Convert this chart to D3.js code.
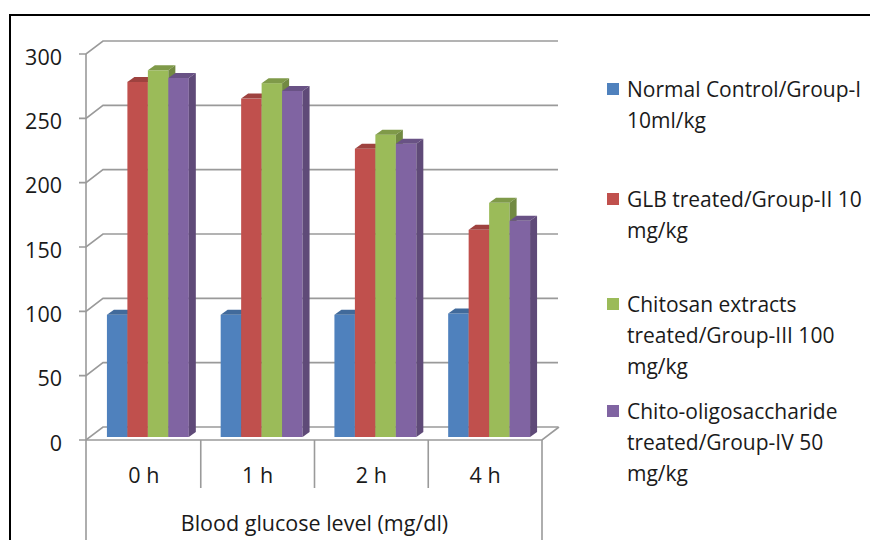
<!DOCTYPE html>
<html>
<head>
<meta charset="utf-8">
<script src="https://cdn.jsdelivr.net/npm/d3@7"></script>
<style>
  body { margin: 0; background: #fff; }
  text { font-family: "Open Sans", sans-serif; fill: #1a1a1a; }
</style>
</head>
<body>
<svg width="870" height="540"></svg>
<script>
var categories = ["0 h", "1 h", "2 h", "4 h"];
var seriesNames = ["Normal Control/Group-I 10ml/kg", "GLB treated/Group-II 10 mg/kg",
  "Chitosan extracts treated/Group-III 100 mg/kg", "Chito-oligosaccharide treated/Group-IV 50 mg/kg"];
var legendLines = [["Normal Control/Group-I", "10ml/kg"], ["GLB treated/Group-II 10", "mg/kg"],
  ["Chitosan extracts", "treated/Group-III 100", "mg/kg"],
  ["Chito-oligosaccharide", "treated/Group-IV 50", "mg/kg"]];
var normalControl = [95, 95, 95, 96];
var glbTreated = [276, 263, 224, 161];
var chitosanTreated = [285, 275, 235, 182];
var chitoOligo = [279, 269, 228, 168];
var yTicks = [0, 50, 100, 150, 200, 250, 300];
var colors = ["#4F81BD", "#C0504D", "#9BBB59", "#8064A2"];

var values = [normalControl, glbTreated, chitosanTreated, chitoOligo];
var svg = d3.select("svg");

// frame
svg.append("path").attr("d", "M10,540V15H870").attr("fill", "none")
  .attr("stroke", "#000").attr("stroke-width", 2);

var x0 = 87, x1 = 542;
var wallDx = 17, wallDy = -13;   // back wall offset
var barDx = 4, barDy = -3;       // bars sit a bit behind the front plane
var depthDx = 7, depthDy = -5;   // bar depth

var y = d3.scaleLinear().domain([0, 300]).range([440, 54]);
var x = d3.scaleBand().domain(categories).range([x0, x1]);
var xs = d3.scaleBand().domain(d3.range(4))
  .range([x.bandwidth() * 0.14, x.bandwidth() * 0.86]);

var grid = "#9a9a9a";
var g = svg.append("g").attr("fill", "none").attr("stroke", grid).attr("stroke-width", 1.6);

// gridlines on back wall with diagonals to the front axis
yTicks.forEach(function(t) {
  g.append("path").attr("d", "M" + 79 + "," + y(t) + "H" + 86 +
    "L" + (86 + wallDx) + "," + (y(t) + wallDy) + "H" + (x1 + wallDx - 1));
});
// floor
g.append("path").attr("d", "M" + 86 + "," + y(0) + "H" + x1 + "L" + (x1 + wallDx) + "," + (y(0) + wallDy));
// front y axis
g.append("path").attr("d", "M86," + y(300) + "V540");
// category separators
categories.forEach(function(c, i) {
  if (i > 0) g.append("path").attr("d", "M" + x(c) + "," + y(0) + "V488");
});
g.append("path").attr("d", "M" + x1 + "," + y(0) + "V540");

// y labels
svg.append("g").selectAll("text").data(yTicks).join("text")
  .attr("x", 62).attr("y", function(d) { return y(d) + 3; })
  .attr("dy", "0.35em").attr("text-anchor", "end")
  .style("font-size", "21.5px").text(function(d) { return d; });

// category labels
svg.append("g").selectAll("text").data(categories).join("text")
  .attr("x", function(d) { return x(d) + x.bandwidth() / 2; })
  .attr("y", 475).attr("dy", "0.35em").attr("text-anchor", "middle")
  .style("font-size", "21.5px").text(function(d) { return d; });

svg.append("text").attr("x", (x0 + x1) / 2).attr("y", 523).attr("dy", "0.35em")
  .attr("text-anchor", "middle").style("font-size", "21.5px")
  .text("Blood glucose level (mg/dl)");

// bars
var bars = svg.append("g");
categories.forEach(function(c, ci) {
  values.forEach(function(vals, si) {
    var bx = x(c) + xs(si) + barDx;
    var bw = xs.bandwidth();
    var top = y(vals[ci]) + barDy;
    var bottom = y(0) + barDy;
    var col = d3.color(colors[si]);
    bars.append("rect").attr("x", bx).attr("y", top).attr("width", bw)
      .attr("height", bottom - top).attr("fill", colors[si]);
    bars.append("path").attr("fill", col.darker(0.55))
      .attr("d", "M" + bx + "," + top + "L" + (bx + depthDx) + "," + (top + depthDy) +
        "H" + (bx + bw + depthDx) + "L" + (bx + bw) + "," + top + "Z");
    bars.append("path").attr("fill", col.darker(0.85))
      .attr("d", "M" + (bx + bw) + "," + top + "L" + (bx + bw + depthDx) + "," + (top + depthDy) +
        "V" + (bottom + depthDy) + "L" + (bx + bw) + "," + bottom + "Z");
  });
});

// legend
var legendY = [90, 200, 305, 412];
var leg = svg.append("g");
legendLines.forEach(function(lines, i) {
  leg.append("rect").attr("x", 607).attr("y", legendY[i] - 7).attr("width", 12).attr("height", 12)
    .attr("fill", colors[i]);
  lines.forEach(function(l, j) {
    leg.append("text").attr("x", 627).attr("y", legendY[i] + j * 31).attr("dy", "0.35em")
      .style("font-size", "21px").text(l);
  });
});
</script>
</body>
</html>
